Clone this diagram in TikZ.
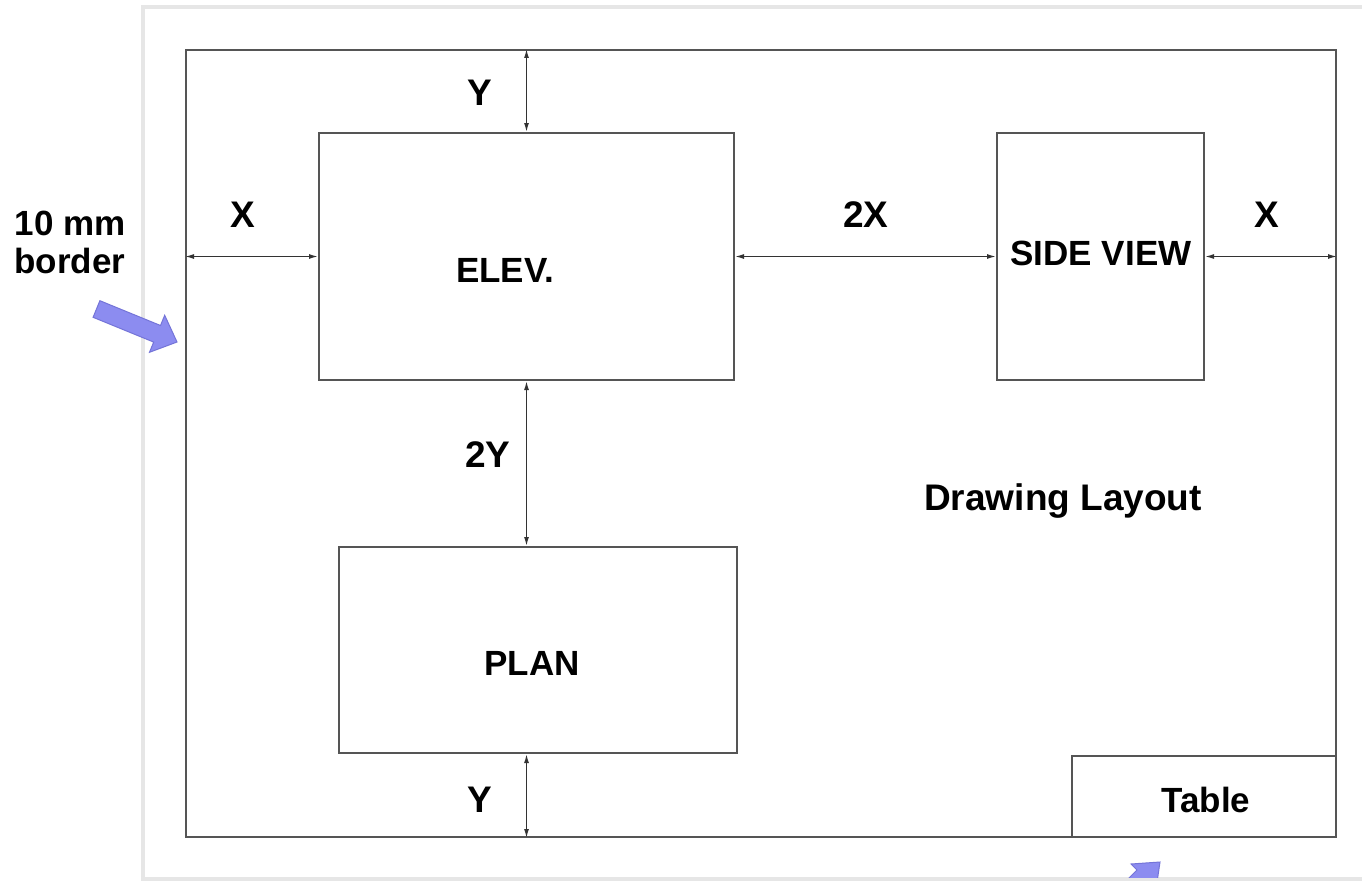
\documentclass[tikz,border=0pt]{standalone}
\usepackage{fontspec}
\setmainfont{Liberation Sans}
\usetikzlibrary{arrows.meta}
\definecolor{linegray}{HTML}{555555}
\definecolor{dimgray}{HTML}{333333}
\definecolor{framegray}{HTML}{E6E6E6}
\definecolor{arrowfill}{HTML}{8C8CF0}
\definecolor{arrowedge}{HTML}{7474D8}
\begin{document}
\begin{tikzpicture}[x=1pt,y=-1pt,
  box/.style={draw=linegray,line width=2pt,rectangle,inner sep=0pt},
  dimline/.style={draw=dimgray,line width=1.4pt,{Latex[length=9pt,width=5pt]}-{Latex[length=9pt,width=5pt]}},
  boxtext/.style={font=\bfseries\fontsize{35}{42}\selectfont,anchor=base,inner sep=0pt},
  dimtext/.style={font=\bfseries\fontsize{37}{44}\selectfont,anchor=base,inner sep=0pt},
  bluearrow/.style={fill=arrowfill,draw=arrowedge,line width=1pt,line join=miter}]
\useasboundingbox (0,0) rectangle (1362,883);
\clip (0,0) rectangle (1362,883);
\fill[white] (0,0) rectangle (1362,883);
% page frame
\draw[draw=framegray,line width=4pt] (143,7) rectangle (1380,879);
% drawing border and boxes
\node[box,minimum width=1150pt,minimum height=787pt] (border) at (761,443.5) {};
\node[box,minimum width=415pt,minimum height=247pt] (elev) at (526.5,256.5) {};
\node[box,minimum width=207pt,minimum height=247pt] (side) at (1100.5,256.5) {};
\node[box,minimum width=398pt,minimum height=206pt] (plan) at (538,650) {};
\node[box,minimum width=264pt,minimum height=81pt] (table) at (1204,796.5) {};
% box texts
\node[boxtext] (elevtxt) at (505,282) {ELEV.};
\node[boxtext] (sidetxt) at (1101,265) {SIDE VIEW};
\node[boxtext] (plantxt) at (532,675) {PLAN};
\node[boxtext] (tabletxt) at (1206,812) {Table};
\node[dimtext] (layout) at (1063,510) {Drawing Layout};
% dimension lines
\draw[dimline] (elev.north) -- (elev.north |- border.north);
\draw[dimline] (elev.south) -- (elev.south |- plan.north);
\draw[dimline] (elev.south |- plan.south) -- (elev.south |- border.south);
\draw[dimline] (elev.west) -- (elev.west -| border.west);
\draw[dimline] (elev.east) -- (side.west);
\draw[dimline] (side.east) -- (side.east -| border.east);
% dimension labels
\node[dimtext] (ytop) at (480,105) {Y};
\node[dimtext] (xleft) at (243,227) {X};
\node[dimtext] (twox) at (866,227) {2X};
\node[dimtext] (xright) at (1267,227) {X};
\node[dimtext] (twoy) at (488,467) {2Y};
\node[dimtext] (ybot) at (480,812) {Y};
% side note
\node[boxtext] (mmtxt) at (70,235) {10 mm};
\node[boxtext] (bordertxt) at (70,273) {border};
% blue block arrows
\draw[bluearrow] (99.9,300.7) -- (160.5,325.5) -- (164.7,315.3) -- (177,342) -- (149.5,352.3) -- (153.7,342.1) -- (93.1,317.3) -- cycle;
\begin{scope}
\clip (1000,840) rectangle (1300,877);
\draw[bluearrow] (1160,862) -- ++(-29,2) -- ++(6,6) -- ++(-40,40) -- ++(13,13) -- ++(40,-40) -- ++(6,6) -- cycle;
\end{scope}
\end{tikzpicture}
\end{document}
